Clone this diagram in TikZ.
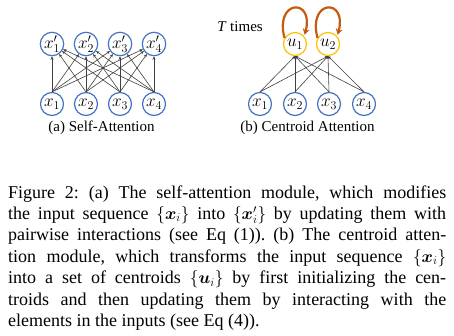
\documentclass[tikz,border=0pt]{standalone}
\usepackage{amsmath,bm}
\usepackage{fontspec}
\setmainfont{Liberation Serif}
\usetikzlibrary{arrows.meta}
\definecolor{cblue}{HTML}{4472C4}
\definecolor{cgold}{HTML}{FFC000}
\definecolor{corange}{HTML}{C55A11}
\begin{document}
\begin{tikzpicture}[x=1pt,y=1pt,
  xnode/.style={circle, draw=cblue, line width=1.2pt, minimum size=23pt, inner sep=0pt, font=\fontsize{17}{18}\selectfont},
  unode/.style={circle, draw=cgold, line width=1.2pt, minimum size=23pt, inner sep=0pt, font=\fontsize{17}{18}\selectfont},
  attn/.style={-{Stealth[length=3.5pt,width=3pt]}, draw=black!75, line width=0.6pt},
  cline/.style={-{Stealth[length=3pt,width=3pt]}, draw=black!75, line width=0.6pt},
  selfloop/.style={-{Stealth[length=6pt,width=7pt]}, draw=corange, line width=2.2pt, shorten >=1.5pt},
  sublabel/.style={inner sep=0pt, font=\fontsize{15}{17}\selectfont}]
\useasboundingbox (0,0) rectangle (454,335);
% (a) self-attention
\foreach \i/\x in {1/52,2/86,3/120,4/154}{
  \node[xnode] (t\i) at (\x,291) {$x_{\i}'$};
  \node[xnode] (b\i) at (\x,231) {$x_{\i}$};
}
\foreach \i in {1,...,4}{
  \foreach \j in {1,...,4}{
    \draw[attn] (b\i.north) -- (t\j);
  }
}
\node[sublabel] (capa) at (101.5,207) {(a) Self-Attention};
% (b) centroid attention
\node[unode] (u1) at (295,291) {$u_1$};
\node[unode] (u2) at (328,291) {$u_2$};
\foreach \i/\x in {1/260,2/295,3/329,4/364}{
  \node[xnode] (c\i) at (\x,231) {$x_{\i}$};
}
\foreach \i in {1,...,4}{
  \draw[cline] (c\i.north) -- (u1.south);
  \draw[cline] (c\i.north) -- (u2.south);
}
\draw[selfloop] (u1.150) .. controls +(105:40) and +(75:40) .. (u1.40);
\draw[selfloop] (u2.150) .. controls +(105:40) and +(75:40) .. (u2.40);
\node[sublabel] (ttimes) at (240,308) {\textit{T} times};
\node[sublabel] (capb) at (307.5,207) {(b) Centroid Attention};
% main caption
\node[anchor=base west, inner sep=0pt] (cap) at (8,137) {\parbox[t]{438pt}{\fontsize{18}{21.4}\selectfont
\frenchspacing\hyphenpenalty=10000 \exhyphenpenalty=10000
Figure 2: (a) The self-attention module, which modifies\linebreak
the input sequence $\{\bm{x}_i\}$ into $\{\bm{x}'_i\}$ by updating them with\linebreak
pairwise interactions (see Eq (1)). (b) The centroid atten-\linebreak
tion module, which transforms the input sequence $\{\bm{x}_i\}$\linebreak
into a set of centroids $\{\bm{u}_i\}$ by first initializing the cen-\linebreak
troids and then updating them by interacting with the\linebreak
elements in the inputs (see Eq (4)).}};
\end{tikzpicture}
\end{document}
